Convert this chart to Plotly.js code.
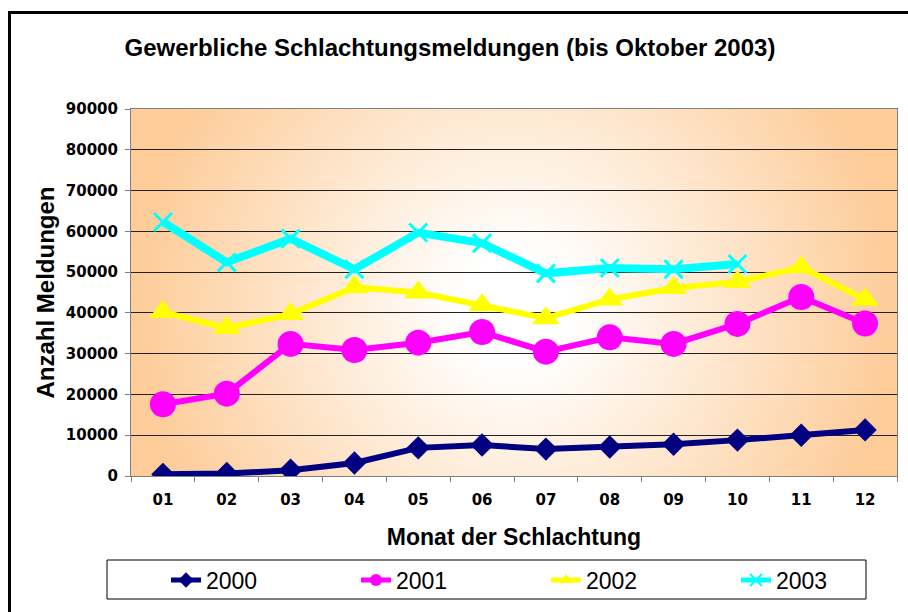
<!DOCTYPE html>
<html lang="de">
<head>
<meta charset="UTF-8">
<title>Gewerbliche Schlachtungsmeldungen</title>
<script src="https://cdn.plot.ly/plotly-3.0.1.min.js"></script>
<style>
    body { margin: 0; background: #fff; }
    #wrap { position: relative; width: 908px; height: 612px; overflow: hidden; }
    #chart { position: absolute; left: 0; top: 0; width: 908px; height: 612px; }
    #frame {
        position: absolute; left: 8px; top: 11px; width: 920px; height: 640px;
        border: 3px solid #000; pointer-events: none;
    }
</style>
</head>
<body>
<div id="wrap">
    <div id="chart"></div>
    <div id="frame"></div>
</div>
<script>
    const months = ['01', '02', '03', '04', '05', '06', '07', '08', '09', '10', '11', '12'];
    const y2000 = [400, 600, 1400, 3200, 6900, 7600, 6600, 7100, 7800, 8800, 10000, 11300];
    const y2001 = [17600, 20200, 32400, 30900, 32700, 35300, 30500, 34000, 32400, 37300, 43900, 37400];
    const y2002 = [40200, 36300, 39700, 46300, 45000, 41900, 38700, 43300, 46100, 47600, 51200, 43300];
    const y2003 = [62300, 52400, 58200, 50700, 59700, 57100, 49700, 51000, 50700, 52000];
    const yTicks = [0, 10000, 20000, 30000, 40000, 50000, 60000, 70000, 80000, 90000];

    // radial background for the plot area
    function gradientImage(w, h) {
        const c = document.createElement('canvas');
        c.width = w; c.height = h;
        const ctx = c.getContext('2d');
        const g = ctx.createRadialGradient(w / 2, h / 2 + 15, 0, w / 2, h / 2 + 15, 380);
        g.addColorStop(0, '#ffffff');
        g.addColorStop(0.14, '#ffffff');
        g.addColorStop(1, '#fdcc99');
        ctx.fillStyle = g;
        ctx.fillRect(0, 0, w, h);
        return c.toDataURL('image/png');
    }

    const legendIds = ['legend', 'legend2', 'legend3', 'legend4'];

    const traces = [
        { name: '2000', y: y2000, color: '#000080', symbol: 'diamond', size: 18, lw: 6 },
        { name: '2001', y: y2001, color: '#ff00ff', symbol: 'circle', size: 26, lw: 6 },
        { name: '2002', y: y2002, color: '#ffff00', symbol: 'triangle-up', size: 24, lw: 6 },
        { name: '2003', y: y2003, color: '#00ffff', symbol: 'x-thin-open', size: 18, lw: 8 }
    ].map((t, i) => ({
        x: months.slice(0, t.y.length),
        y: t.y,
        name: t.name,
        legend: legendIds[i],
        type: 'scatter',
        mode: 'lines+markers',
        line: { color: t.color, width: t.lw },
        marker: {
            color: t.color, symbol: t.symbol, size: t.size,
            line: { color: t.color, width: t.symbol === 'x-thin-open' ? 3 : 0 }
        }
    }));

    const L = 131, R = 11, T = 109, B = 136;
    const pw = 908 - L - R, ph = 612 - T - B;
    const px = v => (v - L) / pw;
    const py = v => (612 - B - v) / ph;

    const legendLeft = [166, 356, 546, 736];

    const layout = {
        width: 908,
        height: 612,
        margin: { l: L, r: R, t: T, b: B, autoexpand: false },
        paper_bgcolor: '#ffffff',
        plot_bgcolor: 'rgba(0,0,0,0)',
        font: { family: 'Liberation Sans, Arial, sans-serif', color: '#000' },
        title: {
            text: '<b>Gewerbliche Schlachtungsmeldungen (bis Oktober 2003)</b>',
            font: { size: 24 },
            x: 450 / 908, xref: 'container', xanchor: 'center',
            y: 1 - 48 / 612, yanchor: 'middle'
        },
        xaxis: {
            type: 'category',
            categoryarray: months,
            range: [-0.5, 11.5],
            showgrid: false,
            ticks: 'outside', ticklen: 5, tickcolor: '#808080', tickson: 'boundaries',
            ticklabelstandoff: 10,
            showline: true, linecolor: '#808080', linewidth: 1, mirror: true,
            tickfont: { family: 'DejaVu Sans, sans-serif', size: 15, weight: 'bold' },
            title: { text: '<b>Monat der Schlachtung</b>', font: { size: 23 }, standoff: 20 },
            automargin: false
        },
        yaxis: {
            range: [0, 90000],
            tickvals: yTicks,
            ticktext: yTicks.map(String),
            showgrid: true, gridcolor: '#222', gridwidth: 1,
            zeroline: false,
            ticks: 'outside', ticklen: 5, tickcolor: '#808080',
            ticklabelstandoff: 4,
            showline: true, linecolor: '#808080', linewidth: 1, mirror: true,
            tickfont: { family: 'DejaVu Sans, sans-serif', size: 15, weight: 'bold' },
            title: { text: '<b>Anzahl Meldungen</b>', font: { size: 24 }, standoff: 4 },
            automargin: false
        },
        images: [{
            source: gradientImage(pw, ph),
            xref: 'paper', yref: 'paper',
            x: 0, y: 1, sizex: 1, sizey: 1,
            sizing: 'stretch', layer: 'below'
        }],
        shapes: [{
            type: 'rect', xref: 'paper', yref: 'paper',
            x0: px(107), x1: px(866), y0: py(599), y1: py(560),
            line: { color: '#000', width: 1 }, fillcolor: '#ffffff', layer: 'above'
        }],
        showlegend: true
    };

    legendIds.forEach((id, i) => {
        layout[id] = {
            orientation: 'h',
            x: px(legendLeft[i]), xanchor: 'left',
            y: py(580), yanchor: 'middle',
            bgcolor: 'rgba(0,0,0,0)', borderwidth: 0,
            itemsizing: 'constant',
            font: { size: 23 }
        };
    });

    Plotly.newPlot('chart', traces, layout, { displayModeBar: false, staticPlot: true });
</script>
</body>
</html>
